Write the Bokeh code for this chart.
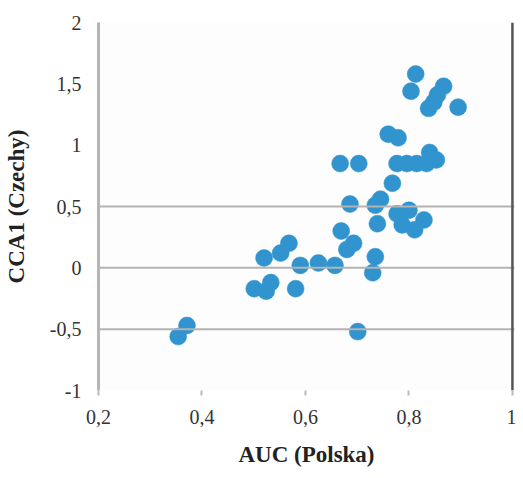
from bokeh.plotting import figure
from bokeh.models import Range1d, Span, CustomJSTickFormatter, FixedTicker
from bokeh.embed import file_html
from bokeh.resources import INLINE

# AUC (Polska) vs CCA1 (Czechy)
auc_pl = [0.813, 0.804, 0.867, 0.855, 0.848, 0.838, 0.895, 0.760, 0.779,
          0.667, 0.703, 0.777, 0.796, 0.815, 0.834, 0.840, 0.853, 0.768,
          0.745, 0.735, 0.686, 0.777, 0.800, 0.829, 0.787, 0.811, 0.739,
          0.669, 0.693, 0.680, 0.735, 0.730, 0.657, 0.625, 0.590, 0.520,
          0.552, 0.568, 0.501, 0.533, 0.524, 0.581, 0.371, 0.354, 0.701]
cca1_cz = [1.58, 1.44, 1.48, 1.41, 1.35, 1.30, 1.31, 1.09, 1.06,
           0.85, 0.85, 0.85, 0.85, 0.85, 0.85, 0.94, 0.88, 0.69,
           0.56, 0.51, 0.52, 0.44, 0.47, 0.39, 0.35, 0.31, 0.36,
           0.30, 0.20, 0.15, 0.09, -0.04, 0.02, 0.04, 0.02, 0.08,
           0.12, 0.20, -0.17, -0.12, -0.19, -0.17, -0.47, -0.56, -0.52]
x_ticks = [0.2, 0.4, 0.6, 0.8, 1.0]
y_ticks = [-1, -0.5, 0, 0.5, 1, 1.5, 2]
grid_levels = [-0.5, 0, 0.5]

p = figure(frame_width=416, frame_height=368, output_backend="svg",
           toolbar_location=None,
           x_range=Range1d(0.2, 1.004), y_range=Range1d(-1, 2),
           min_border_left=89, min_border_right=2, min_border_top=22,
           min_border_bottom=80)
p.background_fill_color = "#fdfdfd"
p.border_fill_color = "white"
p.outline_line_color = None
p.xgrid.visible = False
p.ygrid.visible = False

fmt = CustomJSTickFormatter(code="var s = (Math.round(tick*10)/10).toString(); return s.replace('.', ',');")
for ax in (p.xaxis[0], p.yaxis[0]):
    ax.formatter = fmt
    ax.major_label_text_font = "Liberation Serif"
    ax.major_label_text_font_size = "20px"
    ax.major_label_text_color = "#333333"
    ax.axis_label_text_font = "Liberation Serif"
    ax.axis_label_text_font_style = "bold"
    ax.axis_label_text_font_size = "23px"
    ax.axis_label_text_color = "#222222"
    ax.minor_tick_line_color = None

p.xaxis.ticker = FixedTicker(ticks=x_ticks)
p.yaxis.ticker = FixedTicker(ticks=y_ticks)
p.xaxis.axis_line_color = None
p.xaxis.major_tick_line_color = "#bbbbbb"
p.xaxis.major_tick_line_width = 2
p.xaxis.major_tick_in = 0
p.xaxis.major_tick_out = 5
p.xaxis.major_label_standoff = 14
p.xaxis.axis_label = "AUC (Polska)"
p.xaxis.axis_label_standoff = 15

p.yaxis.axis_line_color = "#b5b5b5"
p.yaxis.axis_line_width = 3
p.yaxis.major_tick_line_color = None
p.yaxis.major_tick_in = 0
p.yaxis.major_tick_out = 0
p.yaxis.major_label_standoff = 17
p.yaxis.axis_label = "CCA1 (Czechy)"
p.yaxis.axis_label_standoff = 18

for g in grid_levels:
    p.add_layout(Span(location=g, dimension="width", line_color="#b3b3b3", line_width=2))
p.add_layout(Span(location=1.0, dimension="height", line_color="#555555", line_width=2.5))

p.scatter(auc_pl, cca1_cz, size=17, marker="circle", fill_color="#3194cf",
          line_color="#3194cf", line_width=0.5)

open("out.html", "w").write(file_html(p, INLINE))
